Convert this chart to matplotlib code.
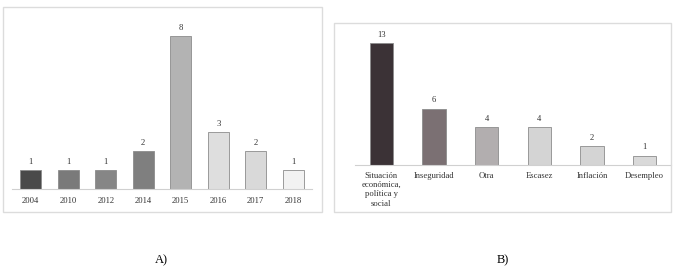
import matplotlib.pyplot as plt
from matplotlib.patches import Rectangle

plt.rcParams["font.family"] = ["Liberation Serif", "DejaVu Serif"]

# Panel A data
years = ["2004", "2010", "2012", "2014", "2015", "2016", "2017", "2018"]
year_counts = [1, 1, 1, 2, 8, 3, 2, 1]
year_colors = ["#4a4a4a", "#7a7a7a", "#868686", "#7f7f7f",
               "#b3b3b3", "#dedede", "#d9d9d9", "#f2f2f2"]

# Panel B data
causes = ["Situación\neconómica,\npolítica y\nsocial", "Inseguridad", "Otra",
          "Escasez", "Inflación", "Desempleo"]
cause_counts = [13, 6, 4, 4, 2, 1]
cause_colors = ["#3b3236", "#7b7073", "#b2aeaf", "#d4d4d4", "#d4d4d4", "#d9d9d9"]

W, H = 677, 270
fig = plt.figure(figsize=(W / 100, H / 100), dpi=100)


def px_axes(x0, y_base, w, h):
    # x0, y_base measured from top-left in pixels
    return fig.add_axes([x0 / W, (H - y_base) / H, w / W, h / H])


# panel borders
for (x0, y0, x1, y1) in [(3, 7, 322, 212), (334, 23, 671, 212)]:
    fig.patches.append(Rectangle((x0 / W, 1 - y1 / H), (x1 - x0) / W, (y1 - y0) / H,
                                 transform=fig.transFigure, fill=False,
                                 edgecolor="#dcdcdc", linewidth=1.0))


def style(ax):
    for s in ["top", "right", "left"]:
        ax.spines[s].set_visible(False)
    ax.spines["bottom"].set_color("#d0d0d0")
    ax.spines["bottom"].set_linewidth(0.8)
    ax.set_yticks([])
    ax.tick_params(axis="x", length=0, labelsize=6.2, pad=6, colors="#333333")
    ax.patch.set_alpha(0)


# Panel A
axA = px_axes(12, 189, 300, 172)
xs = range(len(years))
bars = axA.bar(xs, year_counts, width=0.56, color=year_colors,
               edgecolor="#8c8c8c", linewidth=0.6)
axA.set_xlim(-0.5, 7.5)
axA.set_ylim(0, 9)
axA.set_xticks(list(xs))
axA.set_xticklabels(years)
for b, v in zip(bars, year_counts):
    axA.annotate(str(v), (b.get_x() + b.get_width() / 2, v), xytext=(0, 3),
                 textcoords="offset points", ha="center", va="bottom",
                 fontsize=6.2, color="#333333")
style(axA)

# Panel B
axB = px_axes(355, 165, 316, 131.6)
xs = range(len(causes))
bars = axB.bar(xs, cause_counts, width=0.44, color=cause_colors,
               edgecolor="#8c8c8c", linewidth=0.6)
axB.set_xlim(-0.5, 5.5)
axB.set_ylim(0, 14)
axB.set_xticks(list(xs))
axB.set_xticklabels(causes, linespacing=1.2, va="top")
for b, v in zip(bars, cause_counts):
    axB.annotate(str(v), (b.get_x() + b.get_width() / 2, v), xytext=(0, 3),
                 textcoords="offset points", ha="center", va="bottom",
                 fontsize=6.2, color="#333333")
style(axB)
axB.tick_params(axis="x", pad=5)

# panel captions
fig.text(161 / W, 1 - 260 / H, "A)", ha="center", va="center", fontsize=9)
fig.text(503 / W, 1 - 260 / H, "B)", ha="center", va="center", fontsize=9)

fig.savefig("out.png", dpi=100)
